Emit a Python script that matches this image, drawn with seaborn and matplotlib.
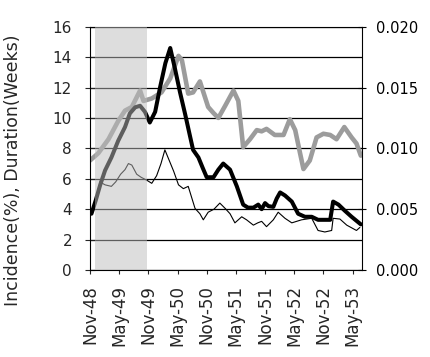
import numpy as np
import pandas as pd
import matplotlib
matplotlib.use("Agg")
import matplotlib.pyplot as plt
from matplotlib.ticker import MultipleLocator, FixedLocator
import seaborn as sns

# ---- data (x = months since Nov-48) ----
incidence_month = [0.3, 1.2, 2.1, 3.1, 4.4, 5.8, 7.2, 8.2, 9.3, 10.3, 11.3, 12.3, 13.4,
                   14.4, 15.5, 16.5, 17.5, 18.5, 19.6, 20.5, 21.2, 22.3, 23.2, 24.0, 25.4,
                   26.4, 27.4, 28.8, 30.2, 31.5, 32.5, 33.6, 34.6, 35.3, 36.0, 36.7, 37.7,
                   38.4, 39.1, 40.1, 41.5, 42.8, 44.2, 45.6, 46.9, 48.3, 49.4, 50.0, 51.1,
                   52.4, 53.8, 55.7]
incidence = [3.7, 4.6, 5.6, 6.55, 7.4, 8.5, 9.4, 10.3, 10.7, 10.8, 10.4, 9.7, 10.4,
             12.0, 13.6, 14.6, 13.2, 11.7, 10.2, 8.9, 7.9, 7.4, 6.7, 6.1, 6.1,
             6.6, 7.0, 6.6, 5.5, 4.3, 4.1, 4.1, 4.3, 4.0, 4.4, 4.2, 4.15,
             4.7, 5.1, 4.9, 4.5, 3.7, 3.5, 3.5, 3.3, 3.3, 3.3, 4.5, 4.3,
             3.9, 3.5, 3.0]

duration_month = [2.0, 3.1, 4.4, 5.3, 6.3, 7.2, 7.9, 8.6, 9.6, 10.5, 11.7, 12.7, 13.7,
                  14.6, 15.4, 16.3, 17.2, 18.2, 19.2, 20.2, 21.6, 22.6, 23.3, 24.3, 25.5,
                  26.7, 27.8, 28.8, 29.8, 30.5, 31.2, 32.2, 33.6, 34.5, 35.3, 36.3, 37.7,
                  38.7, 40.1, 41.5, 42.5, 43.5, 45.6, 46.9, 48.3, 49.7, 50.0, 51.4, 52.8,
                  54.8, 55.5]
duration = [5.8, 5.6, 5.5, 5.8, 6.3, 6.6, 7.0, 6.9, 6.3, 6.1, 5.9, 5.7, 6.2,
            7.0, 7.9, 7.2, 6.5, 5.6, 5.35, 5.5, 4.05, 3.7, 3.3, 3.8, 4.0,
            4.4, 4.05, 3.7, 3.1, 3.3, 3.5, 3.3, 2.95, 3.1, 3.2, 2.85, 3.3,
            3.8, 3.4, 3.1, 3.2, 3.3, 3.4, 2.6, 2.5, 2.6, 3.4, 3.35, 2.95,
            2.6, 2.8]

rate_month = [0.0, 1.7, 3.8, 5.8, 7.2, 8.6, 10.3, 11.0, 12.7, 14.7, 16.5, 18.2, 18.9,
              20.2, 21.2, 22.6, 24.3, 25.4, 26.4, 27.8, 29.5, 30.5, 31.5, 32.9, 34.3,
              35.3, 36.3, 38.0, 39.8, 41.1, 42.2, 43.2, 43.9, 45.2, 46.6, 48.0, 49.4,
              50.7, 52.3, 53.8, 54.8, 55.7]
rate = [0.0090, 0.0096, 0.01075, 0.01225, 0.0131, 0.0134, 0.01475, 0.0139, 0.0141,
        0.0146, 0.01575, 0.0176, 0.01725, 0.0145, 0.0146, 0.0155, 0.0134, 0.0129,
        0.0125, 0.0135, 0.01475, 0.0139, 0.0101, 0.01075, 0.0115, 0.0114, 0.0116,
        0.0111, 0.0111, 0.0124, 0.0115, 0.0096, 0.0083, 0.0090, 0.0109, 0.0112,
        0.0111, 0.01075, 0.01175, 0.0109, 0.0104, 0.0094]

tick_months = [0, 6, 12, 18, 24, 30, 36, 42, 48, 54]
tick_labels = ["Nov-48", "May-49", "Nov-49", "May-50", "Nov-50",
               "May-51", "Nov-51", "May-52", "Nov-52", "May-53"]
left_ticks = [0, 2, 4, 6, 8, 10, 12, 14, 16]
right_ticks = [0.0, 0.005, 0.010, 0.015, 0.020]
shade_start, shade_end = 1.0, 11.7

df_inc = pd.DataFrame({"month": incidence_month, "value": incidence})
df_dur = pd.DataFrame({"month": duration_month, "value": duration})
df_rate = pd.DataFrame({"month": rate_month, "value": rate})

sns.set_style("white")
plt.rcParams["font.family"] = ["DejaVu Sans"]

W, H = 430, 357
fig = plt.figure(figsize=(W / 100, H / 100), dpi=100)
ax = fig.add_axes([90 / W, 1 - 270 / H, 272.3 / W, 243.3 / H])
ax2 = ax.twinx()
ax.set_zorder(ax2.get_zorder() + 1)
ax.patch.set_visible(False)

# right axis: grey series and the horizontal grid
sns.lineplot(data=df_rate, x="month", y="value", ax=ax2, color="#9c9c9c",
             linewidth=3.3, legend=False)
ax2.set_ylim(0, 0.020)
ax2.yaxis.set_major_locator(FixedLocator(right_ticks))
ax2.yaxis.set_minor_locator(MultipleLocator(0.0025))
ax2.set_yticklabels([f"{t:.3f}" for t in right_ticks])
ax2.grid(True, which="both", axis="y", color="black", linewidth=0.9)
ax2.set_axisbelow(True)
ax2.tick_params(axis="y", which="major", direction="inout", length=5.5, width=0.8,
                pad=7.1, labelsize=10.5, colors="black", right=True)
ax2.tick_params(axis="y", which="minor", length=0)
ax2.set_ylabel("")

# left axis: two black series
sns.lineplot(data=df_inc, x="month", y="value", ax=ax, color="black",
             linewidth=2.9, legend=False)
sns.lineplot(data=df_dur, x="month", y="value", ax=ax, color="black",
             linewidth=0.8, legend=False)
ax.set_xlim(0, 56)
ax.set_ylim(0, 16)
ax.set_yticks(left_ticks)
ax.set_yticklabels([str(t) for t in left_ticks])
ax.set_xticks(tick_months)
ax.set_xticklabels(tick_labels, rotation=90)
ax.tick_params(axis="y", direction="inout", length=6.5, width=0.8, pad=9.7,
               labelsize=11, left=True)
ax.tick_params(axis="x", direction="out", length=3, width=0.8, pad=7.8,
               labelsize=12, bottom=True)
ax.set_xlabel("")
ax.set_ylabel("Incidence(%), Duration(Weeks)", fontsize=12.5)
ax.yaxis.set_label_coords(-0.25, 0.411)

for a in (ax, ax2):
    for s in a.spines.values():
        s.set_color("black")
        s.set_linewidth(0.8)
ax.spines["right"].set_visible(False)
ax2.spines["left"].set_visible(False)
ax2.spines["bottom"].set_visible(False)
ax2.spines["top"].set_visible(False)

# stippled veil over the early period, drawn above lines, grid and axis line
ax.axvspan(shade_start, shade_end, color="#bcbcbc", alpha=0.5, lw=0, zorder=10)

fig.savefig("out.png", dpi=100)
